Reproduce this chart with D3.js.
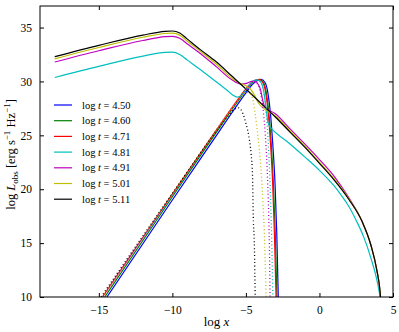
<!DOCTYPE html>
<html><head><meta charset="utf-8">
<script src="https://cdn.jsdelivr.net/npm/d3@7"></script>
<style>
body{margin:0;background:#fff;}
text{font-family:"Liberation Serif","DejaVu Serif",serif;fill:#000;}
</style>
</head><body>
<script>
// labels and colours of the seven epochs
var labels=["4.50","4.60","4.71","4.81","4.91","5.01","5.11"];
var colors=["#0000ff","#008000","#ff0000","#00bfbf","#bf00bf","#bfbf00","#000000"];

// solid curves: total spectrum [log x, log L]
var solidB=[[-14.45,10],[-10,19.0],[-7,25.0],[-6,27.0],[-5,28.95],[-4.5,29.8],[-3.95,30.2],[-3.7,29.9],[-3.5,28.9],[-3.33,27.0],[-3.18,24.3],[-3.02,20.5],[-2.9,15.8],[-2.8,10]];
var solidG=[[-14.6,10],[-10,19.3],[-7,25.3],[-6,27.3],[-5,29.15],[-4.5,29.95],[-4.05,30.2],[-3.8,29.9],[-3.6,28.9],[-3.43,27.0],[-3.28,24.3],[-3.13,20.5],[-3.0,15.8],[-2.89,10]];
var solidR=[[-14.75,10],[-10,19.55],[-7,25.5],[-6,27.45],[-5,29.3],[-4.5,30.05],[-4.1,30.2],[-3.85,29.9],[-3.65,28.9],[-3.48,27.0],[-3.33,24.3],[-3.18,20.5],[-3.06,15.8],[-2.95,10]];
var solidC=[[-18,30.37],[-15,31.4],[-12,32.35],[-10.5,32.7],[-10,32.72],[-9.5,32.5],[-9,32.0],[-8,31.0],[-7,29.95],[-6.3,29.2],[-5.9,28.75],[-5.6,28.55],[-5.35,28.65],[-5.1,29.05],[-4.8,29.6],[-4.5,30.05],[-4.2,30.15],[-3.95,29.85],[-3.78,29.0],[-3.62,27.4],[-3.5,26.2],[-3.4,25.85],[-3.24,25.6],[-2,24.2],[-1,23.0],[0,21.75],[1,20.3],[1.5,19.4],[2,18.4],[2.5,17.1],[3,15.6],[3.5,13.6],[3.85,11.9],[4.05,10.6],[4.12,10]];
var solidM=[[-18,31.8],[-15,32.85],[-12,33.8],[-10.5,34.15],[-10,34.18],[-9.5,34.0],[-9,33.5],[-8.1,32.6],[-7,31.35],[-6,30.2],[-5.3,29.75],[-4.9,29.85],[-4.6,30.0],[-4.35,30.0],[-4.15,29.7],[-4.0,29.2],[-3.85,28.2],[-3.7,27.6],[-3,27.0],[-2,25.6],[-1,24.2],[0,22.75],[1,21.2],[2,19.2],[2.9,17.0],[3.5,14.8],[3.9,12.5],[4.12,10.5],[4.15,10]];
var solidY=[[-18,32.1],[-15,33.15],[-12,34.1],[-10.5,34.45],[-10,34.48],[-9.5,34.3],[-9,33.75],[-8.1,32.8],[-7,31.6],[-6,30.35],[-5.5,29.9],[-5.0,29.6],[-4.7,29.3],[-4.4,28.7],[-4.15,28.0],[-3.8,27.5],[-3,26.8],[-2,25.4],[-1,24.0],[0,22.5],[1,20.95],[2,19.1],[2.9,17.0],[3.5,14.8],[3.9,12.5],[4.12,10.5],[4.15,10]];
var solidK=[[-18,32.3],[-15,33.35],[-12,34.3],[-10.5,34.65],[-10,34.68],[-9.5,34.5],[-9,33.95],[-8.1,32.95],[-7,31.8],[-6,30.55],[-5,29.3],[-4,28.0],[-3,26.7],[-2,25.3],[-1,23.9],[0,22.4],[1,20.85],[2,19.05],[2.9,17.0],[3.5,14.8],[3.9,12.5],[4.12,10.5],[4.15,10]];

// dotted curves: low-frequency component of the later epochs
var dotC=[[-14.7,10],[-10,19.5],[-7,25.5],[-6,27.45],[-5,29.3],[-4.5,30.0],[-4.2,30.1],[-3.95,29.8],[-3.78,28.9],[-3.62,27.1],[-3.48,24.3],[-3.35,20.2],[-3.25,15.5],[-3.17,10]];
var dotM=[[-14.75,10],[-10,19.55],[-7,25.5],[-6,27.45],[-5,29.25],[-4.6,29.8],[-4.35,29.9],[-4.15,29.6],[-4.0,28.9],[-3.85,27.6],[-3.7,25.4],[-3.56,22],[-3.45,17.5],[-3.39,13.5],[-3.36,10]];
var dotY=[[-14.8,10],[-10,19.6],[-7,25.5],[-6,27.4],[-5.3,28.6],[-5.0,29.0],[-4.75,28.9],[-4.49,28.1],[-4.37,27.0],[-4.26,25.8],[-4.15,24.5],[-4.0,22.3],[-3.85,19.0],[-3.72,14.8],[-3.63,10]];
var dotK=[[-14.85,10],[-10,19.6],[-7,25.4],[-6.2,26.8],[-5.8,27.4],[-5.5,27.55],[-5.2,27.0],[-5.0,26.1],[-4.8,24.9],[-4.65,23.3],[-4.55,21.2],[-4.5,17.5],[-4.42,14.5],[-4.37,10]];

var solidSeries=[solidB,solidG,solidR,solidC,solidM,solidY,solidK];
var dotSeries=[null,null,null,dotC,dotM,dotY,dotK];

var xTicks=[-15,-10,-5,0,5];
var yTicks=[10,15,20,25,30,35];

var margin={left:40, top:6, right:6, bottom:35},
    width=399-margin.left-margin.right,
    height=332-margin.top-margin.bottom;

var x=d3.scaleLinear().domain([-19,5]).range([0,width]);
var y=d3.scaleLinear().domain([10,37]).range([height,0]);

var svg=d3.select("body").append("svg").attr("width",399).attr("height",332);
var chartGroup=svg.append("g").attr("transform","translate("+margin.left+","+margin.top+")");

svg.append("defs").append("clipPath").attr("id","clip")
  .append("rect").attr("width",width).attr("height",height);

var line=d3.line()
  .x(function(d){return x(d[0]);})
  .y(function(d){return y(d[1]);})
  .curve(d3.curveMonotoneX);

var plot=chartGroup.append("g").attr("clip-path","url(#clip)");

solidSeries.forEach(function(s,i){
  plot.append("path").attr("d",line(s))
    .attr("fill","none").attr("stroke",colors[i]).attr("stroke-width",1.2);
});
dotSeries.forEach(function(s,i){
  if(!s) return;
  plot.append("path").attr("d",line(s))
    .attr("fill","none").attr("stroke",colors[i]).attr("stroke-width",1.3)
    .attr("stroke-dasharray","1,2.5");
});

// axes: ticks inside on all four sides
var fmt=function(d){return d<0 ? "\u2212"+Math.abs(d) : ""+d;};
var bottomAxis=d3.axisBottom(x).tickValues(xTicks).tickSize(-4).tickPadding(9).tickFormat(fmt);
var topAxis=d3.axisTop(x).tickValues(xTicks).tickSize(-4).tickFormat("");
var leftAxis=d3.axisLeft(y).tickValues(yTicks).tickSize(-4).tickPadding(8).tickFormat(fmt);
var rightAxis=d3.axisRight(y).tickValues(yTicks).tickSize(-4).tickFormat("");

chartGroup.append("g").attr("class","axis").attr("transform","translate(0,"+height+")").call(bottomAxis);
chartGroup.append("g").attr("class","axis").call(topAxis);
chartGroup.append("g").attr("class","axis").call(leftAxis);
chartGroup.append("g").attr("class","axis").attr("transform","translate("+width+",0)").call(rightAxis);

chartGroup.selectAll(".axis path.domain").remove();
chartGroup.selectAll(".axis line").attr("stroke","#000");
chartGroup.selectAll(".axis text").attr("font-family","Liberation Serif, serif").attr("font-size",11.5);

chartGroup.append("rect").attr("width",width).attr("height",height)
  .attr("fill","none").attr("stroke","#000").attr("stroke-width",1);

// legend
var legend=chartGroup.append("g").attr("transform","translate(14,99)");
labels.forEach(function(l,i){
  var g=legend.append("g").attr("transform","translate(0,"+(i*15.7)+")");
  g.append("line").attr("x1",0).attr("x2",18).attr("y1",0).attr("y2",0)
    .attr("stroke",colors[i]).attr("stroke-width",1.2);
  var t=g.append("text").attr("x",28).attr("y",3.5).attr("font-size",10.5);
  t.append("tspan").text("log ");
  t.append("tspan").attr("font-style","italic").text("t");
  t.append("tspan").text(" = "+l);
});

// axis labels
var xl=svg.append("text").attr("x",margin.left+width/2).attr("y",326)
  .attr("text-anchor","middle").attr("font-size",13);
xl.append("tspan").text("log ");
xl.append("tspan").attr("font-style","italic").text("x");

var yl=svg.append("text").attr("transform","translate(15,"+(margin.top+height/2+3)+") rotate(-90)")
  .attr("text-anchor","middle").attr("font-size",12.5);
yl.append("tspan").text("log ");
yl.append("tspan").attr("font-style","italic").text("L");
yl.append("tspan").attr("font-size",9).attr("dy",3).text("obs");
yl.append("tspan").attr("dy",-3).text(" [erg s");
yl.append("tspan").attr("font-size",9).attr("dy",-5).text("\u22121");
yl.append("tspan").attr("dy",5).text(" Hz");
yl.append("tspan").attr("font-size",9).attr("dy",-5).text("\u22121");
yl.append("tspan").attr("dy",5).text("]");
</script>
</body></html>
